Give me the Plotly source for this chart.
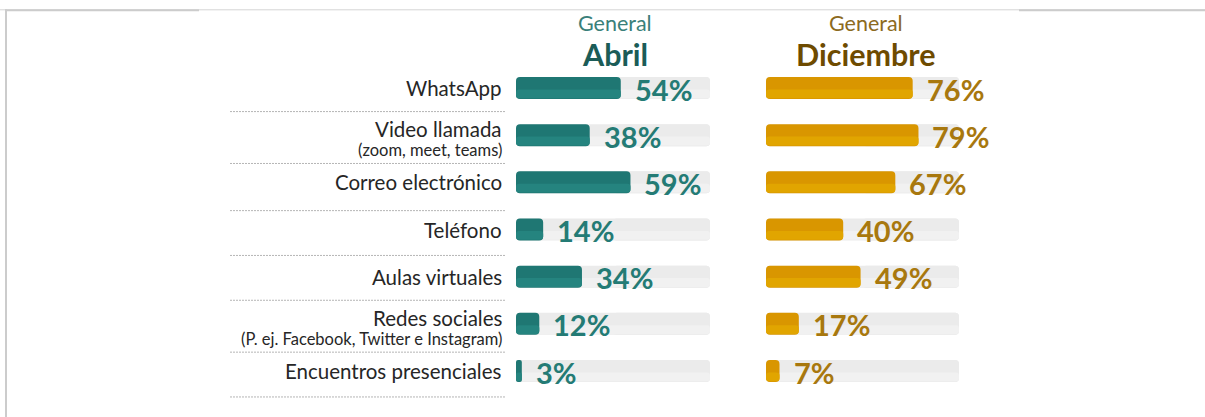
import plotly.graph_objects as go

# ---------------- data ----------------
categories = ["WhatsApp", "Video llamada", "Correo electrónico", "Teléfono",
              "Aulas virtuales", "Redes sociales", "Encuentros presenciales"]
subtitles = ["", "(zoom, meet, teams)", "", "", "",
             "(P. ej. Facebook, Twitter e Instagram)", ""]
abril = [54, 38, 59, 14, 34, 12, 3]
diciembre = [76, 79, 67, 40, 49, 17, 7]
header_top = "General"
headers = ["Abril", "Diciembre"]

# ---------------- style ----------------
W, H = 1205, 417
FONT = "Lato"
pos = list(range(len(categories)))
row0, step = 88, 47.17
BW = 22 / step
TEAL, TEAL_L = "#1f7773", "#25847f"
GOLD, GOLD_L = "#d99600", "#e1a500"
TRACK, TRACK_L = "#ebebeb", "#f1f1f1"
LABEL_X = 504

fig = go.Figure()


def bar(x, base, axis, color, width, offset=None, radius=4):
    kw = dict(y=pos, x=x, base=base, orientation="h", xaxis=axis, width=width,
              marker=dict(color=color, cornerradius=radius, line_width=0),
              hoverinfo="skip", showlegend=False)
    if offset is not None:
        kw["offset"] = offset
    fig.add_trace(go.Bar(**kw))


def add_series(values, axis, col, col_l):
    n = len(values)
    full = [100] * n
    half = [50] * n
    # track: a left-rounded full piece plus a right-rounded half piece
    bar([-f for f in full], full, axis, TRACK, BW)
    bar(half, half, axis, TRACK, BW)
    bar([-f for f in full], full, axis, TRACK_L, BW * 0.4, offset=0.03, radius=3)
    # value bars (rounded at the left end)
    bar([-v for v in values], values, axis, col, BW)
    bar([-v for v in values], values, axis, col_l, BW * 0.4, offset=0.03, radius=3)


add_series(abril, "x", TEAL, TEAL_L)
add_series(diciembre, "x2", GOLD, GOLD_L)

ann = []
# percentage labels
for vals, xr, colr in [(abril, "x", "#247b75"), (diciembre, "x2", "#a8780e")]:
    for p, v in zip(pos, vals):
        ann.append(dict(x=v, y=p, xref=xr, yref="y", text=f"{v}%", showarrow=False,
                        xanchor="left", yanchor="middle", xshift=12, yshift=-1,
                        font=dict(family=FONT, size=29, color=colr, weight="bold")))

# category labels
for p, c, s in zip(pos, categories, subtitles):
    if s:
        ann.append(dict(x=LABEL_X / W, y=p, xref="paper", yref="y", text=c, showarrow=False,
                        xanchor="right", yanchor="middle", yshift=6,
                        font=dict(family=FONT, size=20.5, color="#262626")))
        ann.append(dict(x=LABEL_X / W, y=p, xref="paper", yref="y", text=s, showarrow=False,
                        xanchor="right", yanchor="middle", yshift=-15,
                        font=dict(family=FONT, size=16.5, color="#262626")))
    else:
        ann.append(dict(x=LABEL_X / W, y=p, xref="paper", yref="y", text=c, showarrow=False,
                        xanchor="right", yanchor="middle",
                        font=dict(family=FONT, size=20.5, color="#262626")))

# headers
for cx, name, c1, c2 in [(615, headers[0], "#3a7f7a", "#1b5c57"),
                         (866, headers[1], "#8c6a1e", "#6e4b00")]:
    ann.append(dict(x=cx / W, y=1 - 22.5 / H, xref="paper", yref="paper", text=header_top,
                    showarrow=False, xanchor="center", yanchor="middle",
                    font=dict(family=FONT, size=21.5, color=c1)))
    ann.append(dict(x=cx / W, y=1 - 54 / H, xref="paper", yref="paper", text=name,
                    showarrow=False, xanchor="center", yanchor="middle",
                    font=dict(family=FONT, size=30.5, color=c2, weight="bold")))

# shapes: separators + frame
shapes = []
for s in [0.5, 1.6, 2.6, 3.55, 4.5, 5.6, 6.55]:
    shapes.append(dict(type="line", xref="paper", yref="y", x0=230 / W, x1=505 / W, y0=s, y1=s,
                       line=dict(color="#b5b5b5", width=1, dash="2px,1px")))
shapes.append(dict(type="line", xref="paper", yref="paper", x0=0, x1=1, y0=1 - 9.8 / H, y1=1 - 9.8 / H,
                   line=dict(color="#d4d4d4", width=1)))
shapes.append(dict(type="line", xref="paper", yref="paper", x0=5 / W, x1=199 / W, y0=1 - 10.3 / H, y1=1 - 10.3 / H,
                   line=dict(color="#cccccc", width=2)))
shapes.append(dict(type="line", xref="paper", yref="paper", x0=1019 / W, x1=1, y0=1 - 10.3 / H, y1=1 - 10.3 / H,
                   line=dict(color="#cccccc", width=2)))
shapes.append(dict(type="line", xref="paper", yref="paper", x0=6 / W, x1=6 / W, y0=0, y1=1 - 9.3 / H,
                   line=dict(color="#cccccc", width=2)))

ax_common = dict(visible=False, showgrid=False, zeroline=False, range=[0, 100], fixedrange=True)
fig.update_layout(
    width=W, height=H, autosize=False,
    margin=dict(l=0, r=0, t=0, b=0),
    paper_bgcolor="white", plot_bgcolor="white",
    barmode="overlay",
    xaxis=dict(domain=[516 / W, 710 / W], **ax_common),
    xaxis2=dict(domain=[766 / W, 959 / W], anchor="y", **ax_common),
    yaxis=dict(visible=False, showgrid=False, zeroline=False, fixedrange=True,
               range=[(H - row0) / step, -row0 / step]),
    annotations=ann, shapes=shapes, showlegend=False,
)

fig.write_html("out.html", config={"displayModeBar": False},
               post_script="document.body.style.margin='0';")
